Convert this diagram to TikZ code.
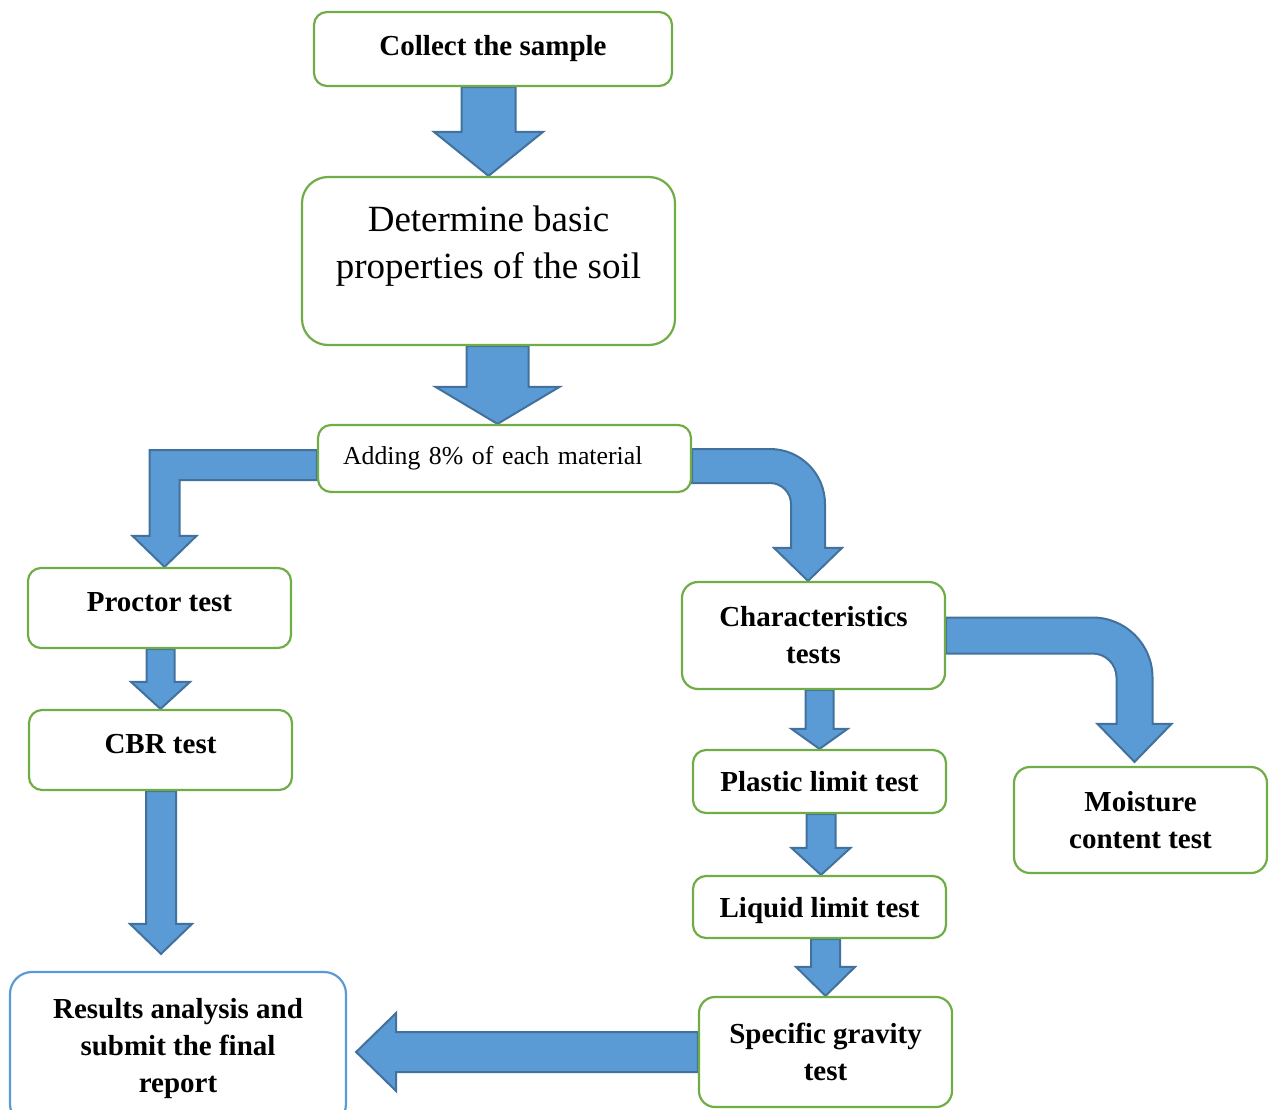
\documentclass[tikz,border=0pt]{standalone}
\usepackage{fontspec}
\setmainfont{Liberation Serif}
\usepackage{tikz}
\usetikzlibrary{calc,backgrounds}
\usepackage{xcolor}
\definecolor{boxgreen}{HTML}{70AD47}
\definecolor{boxblue}{HTML}{5B9BD5}
\definecolor{arrowfill}{HTML}{5B9BD5}
\definecolor{arrowedge}{HTML}{41719C}

% block arrows: from, to, shaft half width, head half width, head length
\newcommand{\downblock}[5]{%
  \draw[blockarrow] let \p1=(#1), \p2=(#2) in
    (\x2-#3,\y1) -- (\x2+#3,\y1) -- (\x2+#3,\y2+#5) -- (\x2+#4,\y2+#5)
    -- (\x2,\y2) -- (\x2-#4,\y2+#5) -- (\x2-#3,\y2+#5) -- cycle;}
\newcommand{\leftblock}[5]{%
  \draw[blockarrow] let \p1=(#1), \p2=(#2) in
    (\x1,\y1+#3) -- (\x1,\y1-#3) -- (\x2+#5,\y1-#3) -- (\x2+#5,\y1-#4)
    -- (\x2,\y1) -- (\x2+#5,\y1+#4) -- (\x2+#5,\y1+#3) -- cycle;}
% from, to, shaft half width, outer radius, inner radius, head half width, head length
\newcommand{\bendblock}[7]{%
  \draw[blockarrow] let \p1=(#1), \p2=(#2) in
    (\x1,\y1+#3) -- (\x2+#3-#4,\y1+#3) arc[start angle=90,end angle=0,radius=#4pt]
    -- (\x2+#3,\y2+#7) -- (\x2+#6,\y2+#7) -- (\x2,\y2) -- (\x2-#6,\y2+#7)
    -- (\x2-#3,\y2+#7) -- (\x2-#3,\y1+#3-#4) arc[start angle=0,end angle=90,radius=#5pt]
    -- (\x1,\y1-#3) -- cycle;}

\tikzset{
  box/.style={draw=boxgreen,line width=2.2pt,rounded corners=13pt,fill=white,
    align=center,inner sep=0pt,font=\fontsize{29pt}{37pt}\selectfont\bfseries},
  plaintext/.style={align=center,inner sep=0pt},
  blockarrow/.style={fill=arrowfill,draw=arrowedge,line width=2pt,line join=miter},
}

\begin{document}
\begin{tikzpicture}[x=1pt,y=-1pt]
\useasboundingbox (0,0) rectangle (1274,1110);

% boxes
\node[box,minimum width=358pt,minimum height=74pt] (col) at (493,49) {Collect the sample};
\node[box,rounded corners=26pt,minimum width=373pt,minimum height=168pt] (det) at (488.5,261) {};
\node[plaintext,font=\fontsize{37pt}{47pt}\selectfont] (det-text) at ($(det)+(0,-14.5)$)
  {Determine basic\\properties of the soil};
\node[box,minimum height=67pt,text width=323pt,inner xsep=25pt,align=left,
  font=\fontsize{25.8pt}{32pt}\selectfont] (add) at (504.5,458.5) {Adding 8\% of each material};
\node[box,minimum width=263pt,minimum height=80pt,text height=20pt,text depth=14pt] (pro) at (159.5,608) {Proctor test};
\node[box,minimum width=263pt,minimum height=80pt,text height=20pt,text depth=14pt] (cbr) at (160.5,750) {CBR test};
\node[box,draw=boxblue,rounded corners=22pt,minimum width=336pt,minimum height=154pt] (res) at (178,1049)
  {Results analysis and\\submit the final\\report};
\node[box,rounded corners=16pt,minimum width=263pt,minimum height=107pt] (cha) at (813.5,635.5) {Characteristics\\tests};
\node[box,minimum width=253pt,minimum height=63pt] (pla) at (819.5,781.5) {Plastic limit test};
\node[box,minimum width=253pt,minimum height=62pt,text height=28pt] (liq) at (819.5,907) {Liquid limit test};
\node[box,rounded corners=16pt,minimum width=253pt,minimum height=110pt] (spe) at (825.5,1052) {Specific gravity\\test};
\node[box,rounded corners=16pt,minimum width=253pt,minimum height=106pt] (moi) at (1140.5,820) {Moisture\\content test};

% arrows
\begin{pgfonlayer}{background}
\downblock{col.south}{det.north}{27}{54.5}{44}
\downblock{det.south}{$(add.north)+(-7,0)$}{31}{62}{37}
\draw[blockarrow] let \p1=($(add.west)+(0,6.5)$), \p2=($(pro.north)+(5,0)$) in
  (\x1,\y1+15) -- (\x2-15,\y1+15) -- (\x2-15,\y2+31) -- (\x2-32,\y2+31) -- (\x2,\y2)
  -- (\x2+32,\y2+31) -- (\x2+15,\y2+31) -- (\x2+15,\y1-15) -- (\x1,\y1-15) -- cycle;
\bendblock{$(add.east)+(0,7.5)$}{$(cha.north)+(-5.5,0)$}{17}{55}{21}{34}{33}
\bendblock{cha.east}{$(moi.north)+(-6,-4)$}{18}{60}{24}{37}{38}
\downblock{pro.south}{cbr.north}{14}{29.5}{27}
\downblock{cbr.south}{$(res.north)+(-17,-17)$}{15}{31}{30}
\downblock{cha.south}{pla.north}{14}{28}{20}
\downblock{pla.south}{$(liq.north)+(1.5,0)$}{14.5}{29.5}{27}
\downblock{liq.south}{spe.north}{14.5}{29.5}{29}
\leftblock{spe.west}{$(res.east)+(9,0)$}{20}{39}{40}
\end{pgfonlayer}
\end{tikzpicture}
\end{document}
